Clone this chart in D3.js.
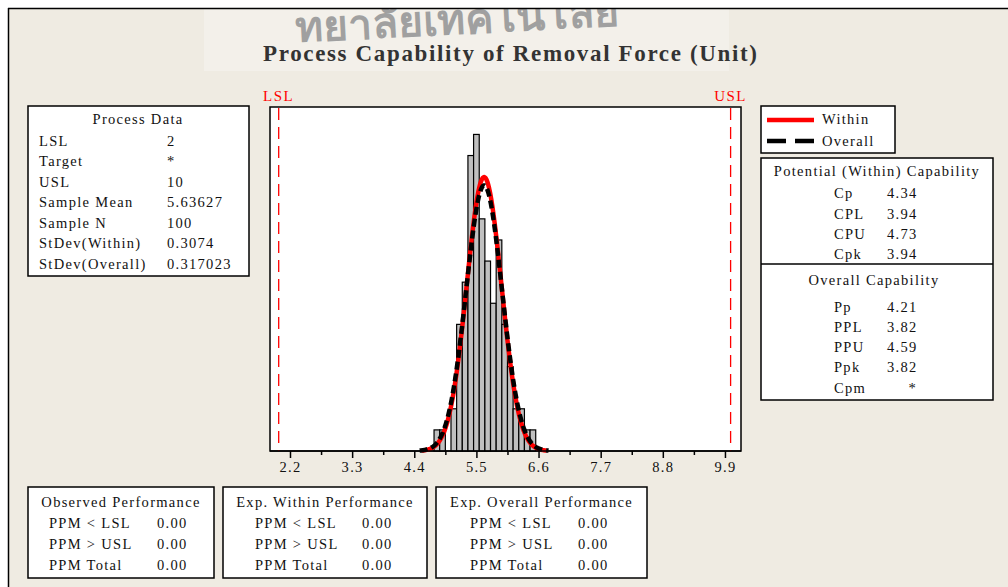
<!DOCTYPE html>
<html><head><meta charset="utf-8">
<script src="https://cdn.jsdelivr.net/npm/d3@7"></script>
<style>
html,body{margin:0;padding:0;background:#fff;}
svg{display:block;}
text{font-family:"Liberation Serif","Times New Roman",serif;}
</style></head><body>
<svg id="chart" width="1008" height="587"></svg>
<script>
// ---- data ----
const binCenters = [4.8,4.9,5.0,5.1,5.2,5.3,5.4,5.5,5.6,5.7,5.8,5.9,6.0,6.1,6.2,6.3,6.4,6.5];
const binCounts  = [1,1,0,2,6,8,14,15,11,9,7,10,6,4,2,2,1,1];
const binWidth = 0.1;
const xTicks = [2.2,3.3,4.4,5.5,6.6,7.7,8.8,9.9];
const xMinorTicks = [2.75,3.85,4.95,6.05,7.15,8.25,9.35];
const specLimits = [{name:"LSL", value:2},{name:"USL", value:10}];
const sampleMean = 5.63627, sampleN = 100, sdWithin = 0.3074, sdOverall = 0.317023;

const processLabels = ["LSL","Target","USL","Sample Mean","Sample N","StDev(Within)","StDev(Overall)"];
const processValues = ["2","*","10","5.63627","100","0.3074","0.317023"];
const potentialLabels = ["Cp","CPL","CPU","Cpk"];
const potentialValues = ["4.34","3.94","4.73","3.94"];
const overallLabels = ["Pp","PPL","PPU","Ppk","Cpm"];
const overallValues = ["4.21","3.82","4.59","3.82","*"];
const ppmLabels = ["PPM < LSL","PPM > USL","PPM Total"];
const observedPPM = ["0.00","0.00","0.00"];
const withinPPM = ["0.00","0.00","0.00"];
const overallPPM = ["0.00","0.00","0.00"];

// ---- layout ----
const W = 1008, H = 587;
const plot = {x0:270, x1:741, y0:107, y1:451};
const svg = d3.select("#chart");
const bg = "#efebe2";
const txt = "#111";

svg.append("rect").attr("width",W).attr("height",H).attr("fill","#fff");
svg.append("rect").attr("x",8).attr("y",8).attr("width",W-8).attr("height",H-8).attr("fill",bg);
// light band behind the title
svg.append("rect").attr("x",204).attr("y",9).attr("width",525).attr("height",62).attr("fill","#f3f0ea");
// seal lettering at the top
svg.append("text").attr("x",458).attr("y",34)
  .attr("transform","rotate(-3,458,34)")
  .attr("text-anchor","middle").attr("font-size",42).attr("font-weight","bold")
  .attr("fill","#a0a0a0")
  .text("ทยาลัยเทคโนโลยี");
svg.append("rect").attr("x",0).attr("y",0).attr("width",W).attr("height",8).attr("fill","#fff");
svg.append("line").attr("x1",8).attr("x2",W).attr("y1",8.5).attr("y2",8.5).attr("stroke","#000").attr("stroke-width",1.5);
svg.append("line").attr("x1",8.5).attr("x2",8.5).attr("y1",8).attr("y2",H).attr("stroke","#000").attr("stroke-width",1.5);

function label(x, y, s, opts={}) {
  const t = svg.append("text").attr("x",x).attr("y",y)
    .attr("font-size",opts.size||14.5)
    .attr("letter-spacing",opts.ls!=null?opts.ls:1.3)
    .attr("fill",opts.fill||txt)
    .attr("text-anchor",opts.anchor||"start")
    .text(s);
  if (opts.weight) t.attr("font-weight",opts.weight);
  if (opts.len) t.attr("textLength",opts.len).attr("lengthAdjust","spacing");
  return t;
}
function box(x,y,w,h){
  svg.append("rect").attr("x",x).attr("y",y).attr("width",w).attr("height",h)
    .attr("fill","#fff").attr("stroke","#000").attr("stroke-width",1.5);
}

// title
label(510, 61, "Process Capability of Removal Force (Unit)", {size:23, weight:"bold", anchor:"middle", fill:"#333", len:494, ls:0});

// ---- plot ----
const x = d3.scaleLinear().domain([1.846, 10.184]).range([plot.x0, plot.x1]);
const y = d3.scaleLinear().domain([0, 16.3]).range([plot.y1, plot.y0]);

svg.append("rect").attr("x",plot.x0).attr("y",plot.y0)
  .attr("width",plot.x1-plot.x0).attr("height",plot.y1-plot.y0)
  .attr("fill","#fff").attr("stroke","#000").attr("stroke-width",1.5);

const bins = binCenters.map((c,i)=>({x0:c-binWidth/2, x1:c+binWidth/2, n:binCounts[i]})).filter(d=>d.n>0);
svg.append("g").selectAll("rect").data(bins).join("rect")
  .attr("x",d=>x(d.x0)).attr("width",d=>x(d.x1)-x(d.x0))
  .attr("y",d=>y(d.n)).attr("height",d=>y(0)-y(d.n))
  .attr("fill","#c0c0c0").attr("stroke","#000").attr("stroke-width",1.2);

// spec limit lines
specLimits.forEach(s=>{
  svg.append("line").attr("x1",x(s.value)).attr("x2",x(s.value))
    .attr("y1",plot.y0+1).attr("y2",plot.y1)
    .attr("stroke","#ff0000").attr("stroke-width",1.3).attr("stroke-dasharray","12,7");
  label(x(s.value), 101, s.name, {size:15, ls:1.5, fill:"#ff0000", anchor:"middle"});
});

// fitted normal curves scaled to the histogram counts
function normalPath(sd){
  const pts = d3.range(-3.6, 3.6001, 0.02).map(z=>{
    const v = sampleMean + z*sd;
    const dens = Math.exp(-0.5*z*z)/(sd*Math.sqrt(2*Math.PI));
    return [v, sampleN*binWidth*dens];
  });
  return d3.line().x(d=>x(d[0])).y(d=>y(d[1]))(pts);
}
svg.append("path").attr("d",normalPath(sdWithin)).attr("fill","none")
  .attr("stroke","#ff0000").attr("stroke-width",4.5);
svg.append("path").attr("d",normalPath(sdOverall)).attr("fill","none")
  .attr("stroke","#000").attr("stroke-width",4.5).attr("stroke-dasharray","8,4");

// axis
const gx = svg.append("g").attr("transform",`translate(0,${plot.y1})`)
  .call(d3.axisBottom(x).tickValues(xTicks).tickSize(7).tickPadding(4).tickFormat(d3.format(".1f")));
gx.select(".domain").remove();
gx.selectAll(".tick line").attr("stroke","#000").attr("stroke-width",1.5);
gx.selectAll("text").attr("font-size",14.5).attr("letter-spacing",1.3).attr("fill",txt)
  .attr("font-family","Liberation Serif");
const gm = svg.append("g").attr("transform",`translate(0,${plot.y1})`)
  .call(d3.axisBottom(x).tickValues(xMinorTicks).tickSize(4).tickFormat(""));
gm.select(".domain").remove();
gm.selectAll(".tick line").attr("stroke","#000").attr("stroke-width",1.5);
svg.append("line").attr("x1",plot.x0).attr("x2",plot.x1).attr("y1",plot.y1).attr("y2",plot.y1)
  .attr("stroke","#000").attr("stroke-width",1.5);

// ---- process data ----
box(28,106,221,170);
label(138,124,"Process Data",{anchor:"middle"});
processLabels.forEach((s,i)=>{
  label(39,145.5+i*20.5,s);
  label(167,145.5+i*20.5,processValues[i]);
});

// ---- legend ----
box(761,106,134,47);
svg.append("line").attr("x1",767).attr("x2",814).attr("y1",120).attr("y2",120)
  .attr("stroke","#ff0000").attr("stroke-width",4.5);
svg.append("line").attr("x1",767).attr("x2",814).attr("y1",141).attr("y2",141)
  .attr("stroke","#000").attr("stroke-width",4.5).attr("stroke-dasharray","19,9");
label(822,124,"Within");
label(822,146,"Overall");

// ---- capability ----
box(761,158,232,242);
svg.append("line").attr("x1",761).attr("x2",993).attr("y1",264).attr("y2",264)
  .attr("stroke","#000").attr("stroke-width",1.5);
label(877,176,"Potential (Within) Capability",{anchor:"middle"});
potentialLabels.forEach((s,i)=>{
  label(834,198.3+i*20.3,s);
  label(887,198.3+i*20.3,potentialValues[i]);
});
label(874,285,"Overall Capability",{anchor:"middle"});
overallLabels.forEach((s,i)=>{
  const yy = 311.5+i*20.3;
  label(834,yy,s);
  if (overallValues[i]==="*") label(917,yy,overallValues[i],{anchor:"end"});
  else label(887,yy,overallValues[i]);
});

// ---- performance boxes ----
const perfBoxes = [
  {title:"Observed Performance", x:28, w:186, lx:49, vx:157, vals:observedPPM},
  {title:"Exp. Within Performance", x:223, w:204, lx:255, vx:362, vals:withinPPM},
  {title:"Exp. Overall Performance", x:436, w:211, lx:470, vx:578, vals:overallPPM}
];
perfBoxes.forEach(b=>{
  box(b.x,487,b.w,91);
  label(b.x+b.w/2,507,b.title,{anchor:"middle"});
  ppmLabels.forEach((s,i)=>{
    const yy = 527.5+i*21;
    label(b.lx,yy,s);
    label(b.vx,yy,b.vals[i]);
  });
});
</script>
</body></html>
